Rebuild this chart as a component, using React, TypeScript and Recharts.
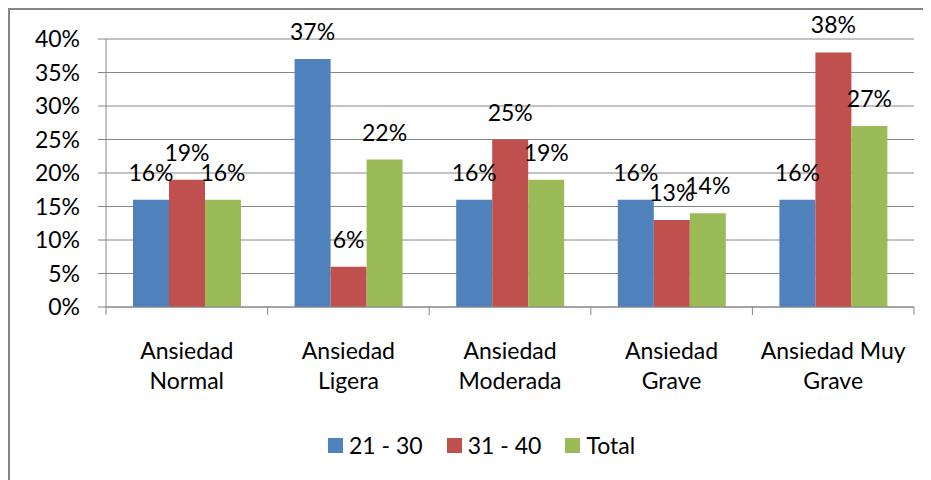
import { Bar, BarChart, CartesianGrid, LabelList, XAxis, YAxis } from "recharts";

/* ────────── clustered bars: anxiety level by age group ────────── */

const categories = [
  "Ansiedad Normal",
  "Ansiedad Ligera",
  "Ansiedad Moderada",
  "Ansiedad Grave",
  "Ansiedad Muy Grave",
];
const age21to30 = [16, 37, 16, 16, 16];
const age31to40 = [19, 6, 25, 13, 38];
const totals = [16, 22, 19, 14, 27];
const yTicks = [0, 5, 10, 15, 20, 25, 30, 35, 40];

const seriesNames = ["21 - 30", "31 - 40", "Total"];
const seriesColors = ["#4F81BD", "#C0504D", "#9BBB59"];

const data = categories.map((name, i) => ({
  name,
  a: age21to30[i],
  b: age31to40[i],
  t: totals[i],
}));

const FONT = "Lato, 'Open Sans', sans-serif";
const FONT_SIZE = 23;
const GRID = "#868686";

function splitLabel(s: string) {
  const words = s.split(" ");
  return [words.slice(0, -1).join(" "), words[words.length - 1]];
}

function CategoryTick(props: any) {
  const { x, y, payload, index } = props;
  const half = payload?.offset ?? 80.8;
  const [l1, l2] = splitLabel(payload.value);
  const last = index === categories.length - 1;
  return (
    <g>
      <line x1={x - half} x2={x - half} y1={y} y2={y + 8} stroke={GRID} />
      {last && <line x1={x + half} x2={x + half} y1={y} y2={y + 8} stroke={GRID} />}
      <text x={x} y={y + 52} textAnchor="middle" fill="#000" fontFamily={FONT} fontSize={FONT_SIZE}>
        {l1}
      </text>
      <text x={x} y={y + 82} textAnchor="middle" fill="#000" fontFamily={FONT} fontSize={FONT_SIZE}>
        {l2}
      </text>
    </g>
  );
}

function PctLabel(props: any) {
  const { x, y, width, value } = props;
  return (
    <text x={x + width / 2} y={y - 19} textAnchor="middle" fill="#000" fontFamily={FONT} fontSize={FONT_SIZE}>
      {`${value}%`}
    </text>
  );
}

export default function App() {
  const keys = ["a", "b", "t"];
  return (
    <div
      style={{
        position: "relative",
        width: 921,
        height: 470,
        borderTop: `2px solid ${GRID}`,
        borderLeft: `2px solid ${GRID}`,
        overflow: "hidden",
        background: "#fff",
      }}
    >
      <BarChart
        width={921}
        height={470}
        data={data}
        margin={{ top: 29, right: 17, left: 0, bottom: 53 }}
        barCategoryGap={27}
        barGap={0}
      >
        <CartesianGrid vertical={false} stroke={GRID} />
        <XAxis
          dataKey="name"
          height={120}
          tickLine={false}
          tickSize={0}
          tickMargin={0}
          axisLine={{ stroke: GRID }}
          tick={<CategoryTick />}
          interval={0}
        />
        <YAxis
          width={96}
          domain={[0, 40]}
          ticks={yTicks}
          tickFormatter={(v: number) => `${v}%`}
          axisLine={{ stroke: GRID }}
          tickLine={{ stroke: GRID }}
          tickSize={8}
          tickMargin={18}
          tick={{ fill: "#000", fontFamily: FONT, fontSize: FONT_SIZE }}
        />
        {keys.map((k, i) => (
          <Bar key={k} dataKey={k} name={seriesNames[i]} fill={seriesColors[i]} isAnimationActive={false}>
            <LabelList dataKey={k} content={<PctLabel />} />
          </Bar>
        ))}
      </BarChart>
      <div
        style={{
          position: "absolute",
          left: 318,
          top: 420,
          height: 30,
          display: "flex",
          alignItems: "center",
          fontFamily: FONT,
          fontSize: FONT_SIZE,
          color: "#000",
        }}
      >
        {seriesNames.map((n, i) => (
          <div key={n} style={{ display: "flex", alignItems: "center", marginRight: 24 }}>
            <span style={{ width: 15, height: 15, background: seriesColors[i], marginRight: 6 }} />
            <span>{n}</span>
          </div>
        ))}
      </div>
    </div>
  );
}
